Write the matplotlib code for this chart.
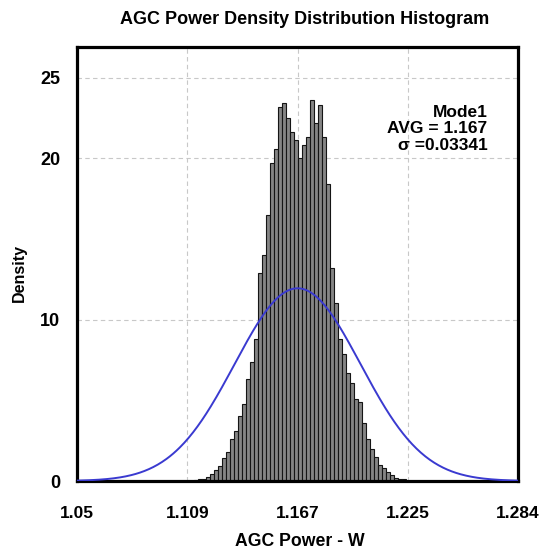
import numpy as np
import matplotlib
matplotlib.use("Agg")
import matplotlib.pyplot as plt

# histogram heights (density), left to right
bin_start = 1.1121
bin_width = 0.00212
heights = [0.05, 0.1, 0.15, 0.25, 0.45, 0.7, 0.9, 1.4, 1.8, 2.6, 3.1, 4.0, 4.8, 6.3, 7.4, 8.8,
           12.9, 14.0, 16.5, 19.7, 20.6, 23.2, 23.4, 22.5, 21.6, 21.1, 20.0, 20.8, 21.3, 23.6,
           22.2, 23.3, 21.3, 18.4, 13.2,
           11.0, 8.8, 7.9, 6.7, 6.1, 5.1, 4.9, 3.6, 2.6, 2.0, 1.5, 1.0, 0.8, 0.55, 0.35, 0.2,
           0.15, 0.1]

avg = 1.167
sigma = 0.03341
x_ticks = [1.05, 1.1085, 1.167, 1.2255, 1.284]
x_labels = ["1.05", "1.109", "1.167", "1.225", "1.284"]
y_ticks = [0, 10, 20, 25]

plt.rcParams['font.family'] = ['Liberation Sans', 'DejaVu Sans']
plt.rcParams['font.weight'] = 'bold'

fig = plt.figure(figsize=(5.44, 5.51), dpi=100)
ax = fig.add_axes([0.1415, 0.127, 0.811, 0.788])

lefts = bin_start + bin_width * np.arange(len(heights))
ax.bar(lefts, heights, width=bin_width, align='edge', color='#858585',
       edgecolor='#151515', linewidth=0.8, zorder=2)

xs = np.linspace(1.05, 1.284, 400)
pdf = np.exp(-0.5 * ((xs - avg) / sigma) ** 2) / (sigma * np.sqrt(2 * np.pi))
ax.plot(xs, pdf, color='#3a3ad0', linewidth=1.4, zorder=3)

ax.set_xlim(1.05, 1.284)
ax.set_ylim(0, 26.9)
ax.set_xticks(x_ticks)
ax.set_xticklabels(x_labels)
ax.set_yticks(y_ticks)
ax.tick_params(axis='x', length=0, labelsize=12.5, pad=18)
ax.tick_params(axis='y', length=0, labelsize=13, pad=12)
for t in ax.get_xticklabels() + ax.get_yticklabels():
    t.set_fontweight('bold')

ax.grid(True, color='#c8c8c8', linestyle=(0, (4, 3)), linewidth=0.8, zorder=0)
ax.set_axisbelow(True)
for s in ax.spines.values():
    s.set_linewidth(2.3)
    s.set_color('black')

fig.text(305 / 544, 1 - 20 / 551, "AGC Power Density Distribution Histogram",
         ha='center', va='center', fontsize=13, fontweight='bold')
fig.text(300 / 544, 1 - 541 / 551, "AGC Power - W",
         ha='center', va='center', fontsize=12.7, fontweight='bold')
fig.text(19 / 544, 1 - 273 / 551, "Density", rotation=90,
         ha='center', va='center', fontsize=11.5, fontweight='bold')

ax.text(0.93, 0.811, "Mode1\nAVG = %.3f\n\u03c3 =%.5f" % (avg, sigma),
        transform=ax.transAxes, ha='right', va='center', fontsize=12.5,
        fontweight='bold', linespacing=1.1)

fig.savefig("out.png", dpi=100)
